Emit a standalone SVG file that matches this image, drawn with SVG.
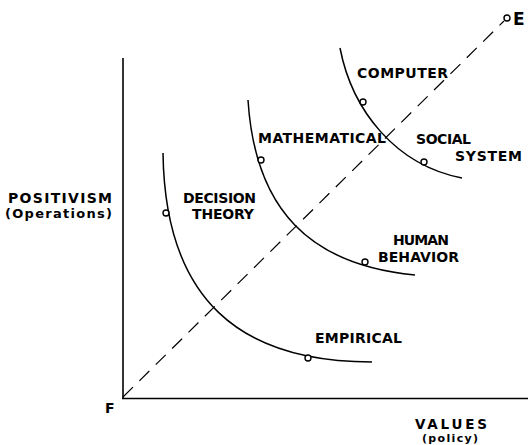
<svg xmlns="http://www.w3.org/2000/svg" width="528" height="445" viewBox="0 0 528 445">
<style>
.lbl{font-family:"DejaVu Sans","Liberation Sans",Arial,sans-serif;font-weight:bold;font-size:14px;fill:#000}
.ax{stroke:#000;stroke-width:1.6;fill:none}
.crv{stroke:#000;stroke-width:1.5;fill:none}
.dash{stroke:#000;stroke-width:1.2;fill:none;stroke-dasharray:14 9}
.pt{fill:#fff;stroke:#000;stroke-width:1.4}
</style>
<rect width="528" height="445" fill="#fff"/>
<g id="axes">
<line class="ax" x1="123" y1="58" x2="123" y2="399"/>
<line class="ax" x1="122" y1="398.5" x2="528" y2="398.5"/>
</g>
<g id="connectors">
<line class="dash" x1="123" y1="397" x2="504" y2="21"/>
</g>
<g id="curve-decision-empirical">
<path class="crv" d="M163,153 C165,300 240,362 372,362"/>
<circle class="pt" cx="166" cy="213" r="3"/>
<circle class="pt" cx="308" cy="358" r="3"/>
</g>
<g id="curve-mathematical-human">
<path class="crv" d="M248,100 C255,210 310,265 415,275"/>
<circle class="pt" cx="261" cy="160" r="3"/>
<circle class="pt" cx="365" cy="262" r="3"/>
</g>
<g id="curve-computer-social">
<path class="crv" d="M340,48 C352,110 395,165 462,178"/>
<circle class="pt" cx="363" cy="102" r="3"/>
<circle class="pt" cx="424" cy="162" r="3"/>
</g>
<g id="point-E">
<circle class="pt" cx="507" cy="18" r="3"/>
<text class="lbl" x="513" y="25" style="font-size:17px">E</text>
</g>
<g id="point-F">
<text class="lbl" x="105" y="413" style="font-size:14px">F</text>
</g>
<g id="labels">
<text class="lbl" x="357" y="78" textLength="91" lengthAdjust="spacing">COMPUTER</text>
<text class="lbl" x="258" y="143" textLength="128" lengthAdjust="spacing">MATHEMATICAL</text>
<text class="lbl" x="416" y="144" textLength="55" lengthAdjust="spacing">SOCIAL</text>
<text class="lbl" x="455" y="161" textLength="67" lengthAdjust="spacing">SYSTEM</text>
<text class="lbl" x="183" y="203" textLength="73" lengthAdjust="spacing">DECISION</text>
<text class="lbl" x="192" y="219" textLength="62" lengthAdjust="spacing">THEORY</text>
<text class="lbl" x="393" y="245" textLength="56" lengthAdjust="spacing">HUMAN</text>
<text class="lbl" x="378" y="262" textLength="81" lengthAdjust="spacing">BEHAVIOR</text>
<text class="lbl" x="315" y="343" textLength="87" lengthAdjust="spacing">EMPIRICAL</text>
<text class="lbl" x="8" y="203" textLength="104" lengthAdjust="spacing">POSITIVISM</text>
<text class="lbl" x="5" y="218" textLength="107" lengthAdjust="spacing" style="font-size:13px">(Operations)</text>
<text class="lbl" x="415" y="429" textLength="72" lengthAdjust="spacing" style="font-size:13.5px">VALUES</text>
<text class="lbl" x="422" y="442" textLength="56" lengthAdjust="spacing" style="font-size:11px">(policy)</text>
</g>
</svg>
